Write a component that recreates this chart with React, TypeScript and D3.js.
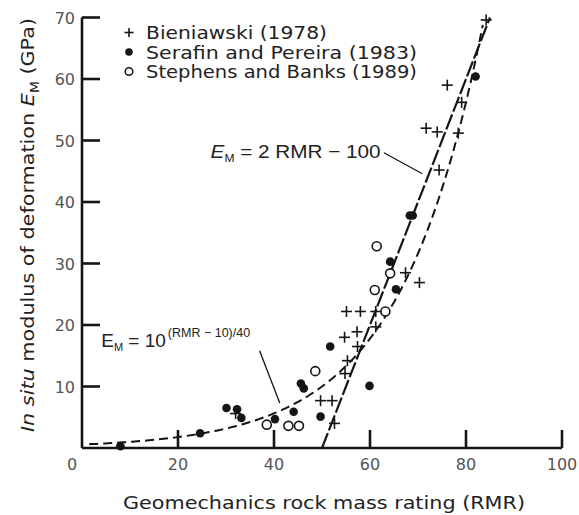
import React from "react";
import * as d3 from "d3";

// ---- data ----
const bieniawski: [number, number][] = [
  [84.2, 69.6], [76.1, 59.0], [79.1, 56.2], [71.7, 52.0], [74.0, 51.4], [78.4, 51.2],
  [74.4, 45.2], [67.4, 28.5], [70.3, 26.9], [55.1, 22.2], [58.0, 22.2], [61.2, 22.2],
  [61.2, 19.7], [54.7, 18.0], [57.3, 18.9], [57.4, 16.5], [55.3, 14.2], [54.8, 12.1],
  [49.7, 7.7], [52.1, 7.7], [52.6, 4.0], [32.0, 5.6],
];
const serafin: [number, number][] = [
  [82.0, 60.4], [68.3, 37.8], [68.9, 37.8], [64.2, 30.3], [65.4, 25.8], [51.7, 16.5],
  [45.6, 10.5], [46.2, 9.7], [59.9, 10.1], [49.7, 5.1], [44.1, 5.9], [40.2, 4.7],
  [30.1, 6.5], [32.3, 6.3], [33.2, 4.9], [24.6, 2.4], [8.0, 0.3],
];
const stephens: [number, number][] = [
  [61.4, 32.8], [64.2, 28.4], [61.0, 25.7], [63.2, 22.2], [48.6, 12.5], [38.5, 3.8],
  [43.0, 3.6], [45.2, 3.6],
];
const xTicks = [0, 20, 40, 60, 80, 100];
const yTicks = [10, 20, 30, 40, 50, 60, 70];
const legendLabels = ["Bieniawski (1978)", "Serafin and Pereira (1983)", "Stephens and Banks (1989)"];
const linearRange = [50, 85]; // E = 2 RMR - 100
const expRange = [1.5, 83.8]; // E = 10^((RMR-10)/40)

const W = 579, H = 515;
const FONT = "'DejaVu Sans', Verdana, sans-serif";
const AFONT = "'Liberation Sans', Arial, sans-serif";
const INK = "#151515";

export default function App() {
  const x = d3.scaleLinear().domain([0, 100]).range([82, 562]);
  const y = d3.scaleLinear().domain([0, 70]).range([448, 17.5]);

  const linFn = (r: number) => 2 * r - 100;
  const expFn = (r: number) => Math.pow(10, (r - 10) / 40);

  const line = d3.line<[number, number]>().x((d) => x(d[0])).y((d) => y(d[1]));
  const linPts: [number, number][] = linearRange.map((r) => [r, linFn(r)]);
  const expPts: [number, number][] = d3.range(expRange[0], expRange[1] + 0.001, 0.5).map((r) => [r, expFn(r)]);

  const plus = (cx: number, cy: number, s: number, key: string) => (
    <g key={key} stroke={INK} strokeWidth={1.6}>
      <line x1={cx - s} x2={cx + s} y1={cy} y2={cy} />
      <line x1={cx} x2={cx} y1={cy - s} y2={cy + s} />
    </g>
  );

  const legendY = [32.5, 52, 71.5];

  return (
    <svg width={W} height={H} style={{ position: "absolute", left: 0, top: 0, background: "#fff" }}>
      {/* axes */}
      <g stroke={INK} strokeWidth={2.6} fill="none">
        <line x1={x(0)} x2={x(100)} y1={y(0)} y2={y(0)} />
        <line x1={x(0)} x2={x(0)} y1={y(0)} y2={y(70)} />
        {xTicks.filter((t) => t > 0).map((t) => (
          <line key={"xt" + t} x1={x(t)} x2={x(t)} y1={y(0)} y2={y(0) - 18} />
        ))}
        {yTicks.map((t) => (
          <line key={"yt" + t} x1={x(0)} x2={x(0) + 18} y1={y(t)} y2={y(t)} />
        ))}
      </g>
      <g fontFamily={FONT} fontSize={16} fill="#555">
        {xTicks.map((t) => (
          <text key={"xl" + t} x={t === 0 ? x(t) - 10 : x(t)} y={470} textAnchor="middle">
            {t}
          </text>
        ))}
        {yTicks.map((t) => (
          <text key={"yl" + t} x={75} y={y(t) + 6} textAnchor="end">
            {t}
          </text>
        ))}
      </g>

      {/* axis titles */}
      <text x={324} y={509} textAnchor="middle" fontFamily={FONT} fontSize={18} fill="#222"
        textLength={402} lengthAdjust="spacingAndGlyphs">
        Geomechanics rock mass rating (RMR)
      </text>
      <text transform={`translate(34,225) rotate(-90)`} textAnchor="middle" fontFamily={FONT} fontSize={18} fill="#222"
        textLength={414} lengthAdjust="spacingAndGlyphs">
        <tspan fontStyle="italic">In situ</tspan>
        <tspan> modulus of deformation </tspan>
        <tspan fontStyle="italic">E</tspan>
        <tspan fontSize={12} dy={5}>M</tspan>
        <tspan dy={-5}> (GPa)</tspan>
      </text>

      {/* curves */}
      <path d={line(linPts) || ""} fill="none" stroke={INK} strokeWidth={2.2} strokeDasharray="16,3" />
      <path d={line(expPts) || ""} fill="none" stroke={INK} strokeWidth={2} strokeDasharray="9,5" />

      {/* points */}
      {stephens.map((d, i) => (
        <circle key={"st" + i} cx={x(d[0])} cy={y(d[1])} r={4.5} fill="#fff" stroke={INK} strokeWidth={1.6} />
      ))}
      {serafin.map((d, i) => (
        <circle key={"se" + i} cx={x(d[0])} cy={y(d[1])} r={4.3} fill={INK} />
      ))}
      {bieniawski.map((d, i) => plus(x(d[0]), y(d[1]), 5.5, "bi" + i))}

      {/* legend */}
      {plus(129, legendY[0], 4.5, "lg0")}
      <circle cx={129} cy={legendY[1]} r={3.8} fill={INK} />
      <circle cx={129} cy={legendY[2]} r={3.8} fill="#fff" stroke={INK} strokeWidth={1.5} />
      <g fontFamily={FONT} fontSize={17} fill="#222">
        {legendLabels.map((l, i) => (
          <text key={"lt" + i} x={146} y={legendY[i] + 6.5}
            textLength={i === 0 ? 181 : 271} lengthAdjust="spacingAndGlyphs">
            {l}
          </text>
        ))}
      </g>

      {/* annotation: linear */}
      <text x={x(26.8)} y={y(47.1)} fontFamily={AFONT} fontSize={19} fill="#222"
        textLength={170} lengthAdjust="spacingAndGlyphs">
        <tspan fontStyle="italic">E</tspan>
        <tspan fontSize={11} dy={4}>M</tspan>
        <tspan dy={-4}> = 2 RMR − 100</tspan>
      </text>
      <line x1={x(62.9)} y1={y(48.0)} x2={x(70.9)} y2={y(44.6)} stroke={INK} strokeWidth={1.3} />

      {/* annotation: exponential */}
      <text x={x(4.0)} y={y(16.4)} fontFamily={AFONT} fontSize={19} fill="#222">
        <tspan>E</tspan>
        <tspan fontSize={11} dy={4}>M</tspan>
        <tspan dy={-4}> = 10</tspan>
        <tspan fontSize={12.5} dy={-10} dx={2}>(RMR − 10)/40</tspan>
      </text>
      <line x1={x(37.0)} y1={y(15.8)} x2={x(41.2)} y2={y(7.3)} stroke={INK} strokeWidth={1.3} />
    </svg>
  );
}
